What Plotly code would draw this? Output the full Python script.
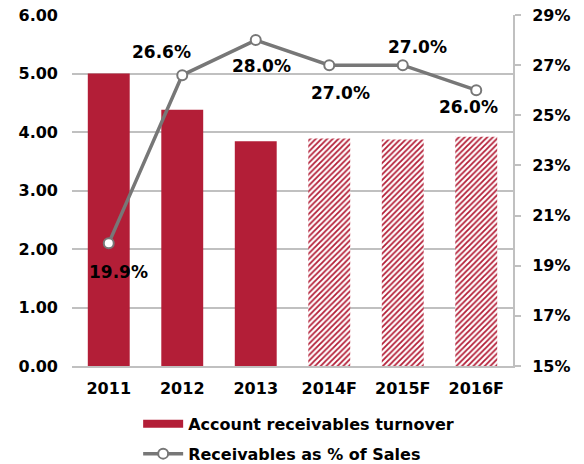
import plotly.graph_objects as go

years = ["2011", "2012", "2013", "2014F", "2015F", "2016F"]
turnover = [5.00, 4.38, 3.84, 3.89, 3.87, 3.92]
pct_sales = [19.9, 26.6, 28.0, 27.0, 27.0, 26.0]
pct_labels = ["19.9%", "26.6%", "28.0%", "27.0%", "27.0%", "26.0%"]
forecast = [False, False, False, True, True, True]

# label offsets in pixels (style only)
label_dx = [10, -21, 6, 11, 15, -8]
label_dy = [-29, 23, -26, -28, 18, -17]

RED = "#B31E37"
GREY = "#777777"
GRID = "#C0C0C0"
FONT = "DejaVu Sans"

fig = go.Figure()

fig.add_trace(go.Bar(
    x=years, y=turnover, name="Account receivables turnover",
    marker=dict(
        color=RED,
        line=dict(width=0),
        pattern=dict(
            shape=["/" if f else "" for f in forecast],
            fillmode="replace",
            fgcolor=RED, bgcolor="white", size=4, solidity=0.45,
        ),
    ),
    yaxis="y", showlegend=False,
))

fig.add_trace(go.Scatter(
    x=years, y=pct_sales, name="Receivables as % of Sales",
    mode="lines+markers",
    line=dict(color=GREY, width=3.5),
    marker=dict(symbol="circle", size=10, color="white", line=dict(color=GREY, width=2)),
    yaxis="y2", cliponaxis=False, showlegend=False,
))

# legend entries
fig.add_trace(go.Scatter(
    x=[years[0]], y=[None], name="Account receivables turnover", mode="lines",
    line=dict(color=RED, width=8), legendgroup="a", yaxis="y",
))
fig.add_trace(go.Scatter(
    x=[years[0]], y=[None], name="Receivables as % of Sales", mode="lines+markers",
    line=dict(color=GREY, width=3.5),
    marker=dict(symbol="circle", size=10, color="white", line=dict(color=GREY, width=2)),
    legendgroup="b", yaxis="y2",
))

# annotations use the category index on the category axis
for i, (v, t, dx, dy) in enumerate(zip(pct_sales, pct_labels, label_dx, label_dy)):
    fig.add_annotation(x=i, y=v, xref="x", yref="y2", text=t, showarrow=False,
                       xshift=dx, yshift=dy,
                       font=dict(family=FONT, size=17, color="black", weight="bold"))

fig.update_layout(
    width=584, height=464,
    margin=dict(l=72, r=71, t=15, b=98, autoexpand=False),
    paper_bgcolor="white", plot_bgcolor="white",
    font=dict(family=FONT, size=16, color="black", weight="bold"),
    bargap=0.43,
    showlegend=True,
    legend=dict(orientation="v", x=0.15, y=0.123, xanchor="left", yanchor="top",
                yref="container",
                font=dict(family=FONT, size=16, color="black", weight="bold"),
                tracegroupgap=6, itemwidth=40),
    xaxis=dict(type="category", categoryorder="array", categoryarray=years,
               range=[-0.5, len(years) - 0.5],
               showline=True, linecolor=GRID, linewidth=2, ticks="",
               ticklabelstandoff=7,
               tickfont=dict(family=FONT, size=16, weight="bold"), showgrid=False),
    yaxis=dict(range=[0, 6], dtick=1, tickformat=".2f", showgrid=True, gridcolor=GRID,
               gridwidth=1.5, zeroline=False, showline=False, ticklabelstandoff=13,
               tickfont=dict(family=FONT, size=16, weight="bold")),
    yaxis2=dict(range=[15, 29], tick0=15, dtick=2, ticksuffix="%", overlaying="y", side="right",
                showgrid=False, zeroline=False, showline=True, linecolor=GRID, linewidth=2,
                ticks="outside", ticklen=6, tickcolor=GRID, tickwidth=1.5,
                ticklabelstandoff=8,
                tickfont=dict(family=FONT, size=16, weight="bold")),
)

fig.write_html("out.html")
